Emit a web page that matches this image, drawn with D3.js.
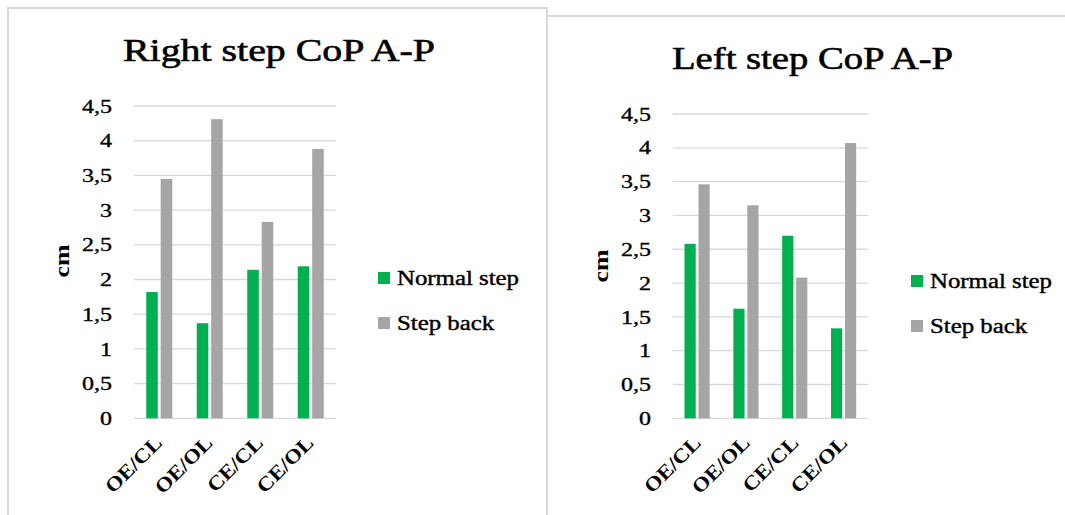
<!DOCTYPE html>
<html>
<head>
<meta charset="utf-8">
<script src="https://cdn.jsdelivr.net/npm/d3@7"></script>
<style>
  html, body { margin: 0; padding: 0; background: #fff; }
  svg { display: block; }
</style>
</head>
<body>
<svg id="chart" width="1065" height="515" font-family="'Liberation Serif', 'DejaVu Serif', serif"></svg>
<script>
// ---- data ----
const categories = ["OE/CL", "OE/OL", "CE/CL", "CE/OL"];
const seriesNames = ["Normal step", "Step back"];
const seriesColors = ["#00b050", "#a5a5a5"];
const yTicks = [0, 0.5, 1, 1.5, 2, 2.5, 3, 3.5, 4, 4.5];
const rightNormal = [1.82, 1.37, 2.14, 2.19];
const rightBack   = [3.45, 4.31, 2.83, 3.88];
const leftNormal  = [2.58, 1.62, 2.70, 1.33];
const leftBack    = [3.46, 3.15, 2.08, 4.07];

const svg = d3.select("#chart");
const gridColor = "#d9d9d9";

// panel borders
const borders = svg.append("g").attr("stroke", gridColor).attr("stroke-width", 2).attr("fill", "none");
borders.append("path").attr("d", "M8,515 L8,8 L547,8 L547,515");
borders.append("path").attr("d", "M547,16 L1065,16");

// stretch a text selection so that the element at refIndex reaches targetWidth
function fitTo(sel, refIndex, targetWidth) {
  const nodes = sel.nodes();
  const f = targetWidth / nodes[refIndex].getComputedTextLength();
  sel.each(function () {
    const w = this.getComputedTextLength();
    d3.select(this).attr("textLength", w * f).attr("lengthAdjust", "spacingAndGlyphs");
  });
}

function drawChart(cfg) {
  const { title, titleX, titleY, titleW, normal, back, x0r, y0r, tickRight,
          cmX, cmY, legX, legY, xLabDx, xLabY } = cfg;
  const g = svg.append("g");
  const y = d3.scaleLinear().domain([0, 4.5]).range(y0r);
  const x0 = d3.scaleBand().domain(categories).range(x0r).padding(0);
  const bw = x0.bandwidth();
  const gw = bw * 0.515;
  const x1 = d3.scaleBand().domain(seriesNames).range([-gw / 2, gw / 2]).paddingInner(0.2);

  // gridlines
  g.append("g").selectAll("line").data(yTicks).join("line")
    .attr("x1", x0r[0]).attr("x2", x0r[1])
    .attr("y1", d => y(d)).attr("y2", d => y(d))
    .attr("stroke", gridColor).attr("stroke-width", 1.3);

  // y tick labels
  const yl = g.append("g").selectAll("text").data(yTicks).join("text")
    .attr("x", tickRight).attr("y", d => y(d)).attr("dy", "0.35em")
    .attr("text-anchor", "end").attr("font-size", 19)
    .attr("stroke", "#000").attr("stroke-width", 0.35)
    .text(d => String(d).replace(".", ","));
  fitTo(yl, yTicks.length - 1, 30);

  // bars
  const data = categories.map((c, i) => ({ c, vals: [normal[i], back[i]] }));
  const groups = g.append("g").selectAll("g").data(data).join("g")
    .attr("transform", d => `translate(${x0(d.c) + bw / 2},0)`);
  groups.selectAll("rect").data(d => d.vals.map((v, j) => ({ v, s: seriesNames[j], j })))
    .join("rect")
    .attr("x", d => x1(d.s)).attr("width", x1.bandwidth())
    .attr("y", d => y(d.v)).attr("height", d => y(0) - y(d.v))
    .attr("fill", d => seriesColors[d.j]);

  // x labels
  const xl = g.append("g").selectAll("text").data(categories).join("text")
    .attr("transform", d => `translate(${x0(d) + bw / 2 + xLabDx},${xLabY}) rotate(-45)`)
    .attr("text-anchor", "end").attr("font-size", 20).attr("font-weight", "bold")
    .text(d => d);
  fitTo(xl, 0, 71);

  // y axis title
  const cm = g.append("text")
    .attr("transform", `translate(${cmX},${cmY}) rotate(-90)`)
    .attr("text-anchor", "middle").attr("font-size", 21).attr("font-weight", "bold")
    .text("cm");
  fitTo(cm, 0, 33);

  // chart title
  g.append("text").attr("x", titleX).attr("y", titleY)
    .attr("text-anchor", "middle").attr("font-size", 32)
    .attr("stroke", "#000").attr("stroke-width", 0.6)
    .attr("textLength", titleW).attr("lengthAdjust", "spacingAndGlyphs")
    .text(title);

  // legend
  const leg = g.append("g").selectAll("g").data(seriesNames).join("g")
    .attr("transform", (d, i) => `translate(${legX},${legY + i * 45})`);
  leg.append("rect").attr("x", 0).attr("y", -13).attr("width", 12).attr("height", 12)
    .attr("fill", (d, i) => seriesColors[i]);
  const lt = leg.append("text").attr("x", 19).attr("y", 0).attr("font-size", 20)
    .attr("stroke", "#000").attr("stroke-width", 0.4)
    .text(d => d);
  fitTo(lt, 0, 122);
}

drawChart({
  title: "Right step CoP A-P", titleX: 279, titleY: 61, titleW: 312,
  normal: rightNormal, back: rightBack,
  x0r: [134, 336], y0r: [418.3, 106], tickRight: 112,
  cmX: 69, cmY: 261, legX: 378, legY: 285, xLabDx: 4, xLabY: 444
});
drawChart({
  title: "Left step CoP A-P", titleX: 812.5, titleY: 69, titleW: 281,
  normal: leftNormal, back: leftBack,
  x0r: [672.7, 868], y0r: [418.3, 114], tickRight: 651,
  cmX: 608, cmY: 266, legX: 911, legY: 288, xLabDx: 5, xLabY: 444
});
</script>
</body>
</html>
